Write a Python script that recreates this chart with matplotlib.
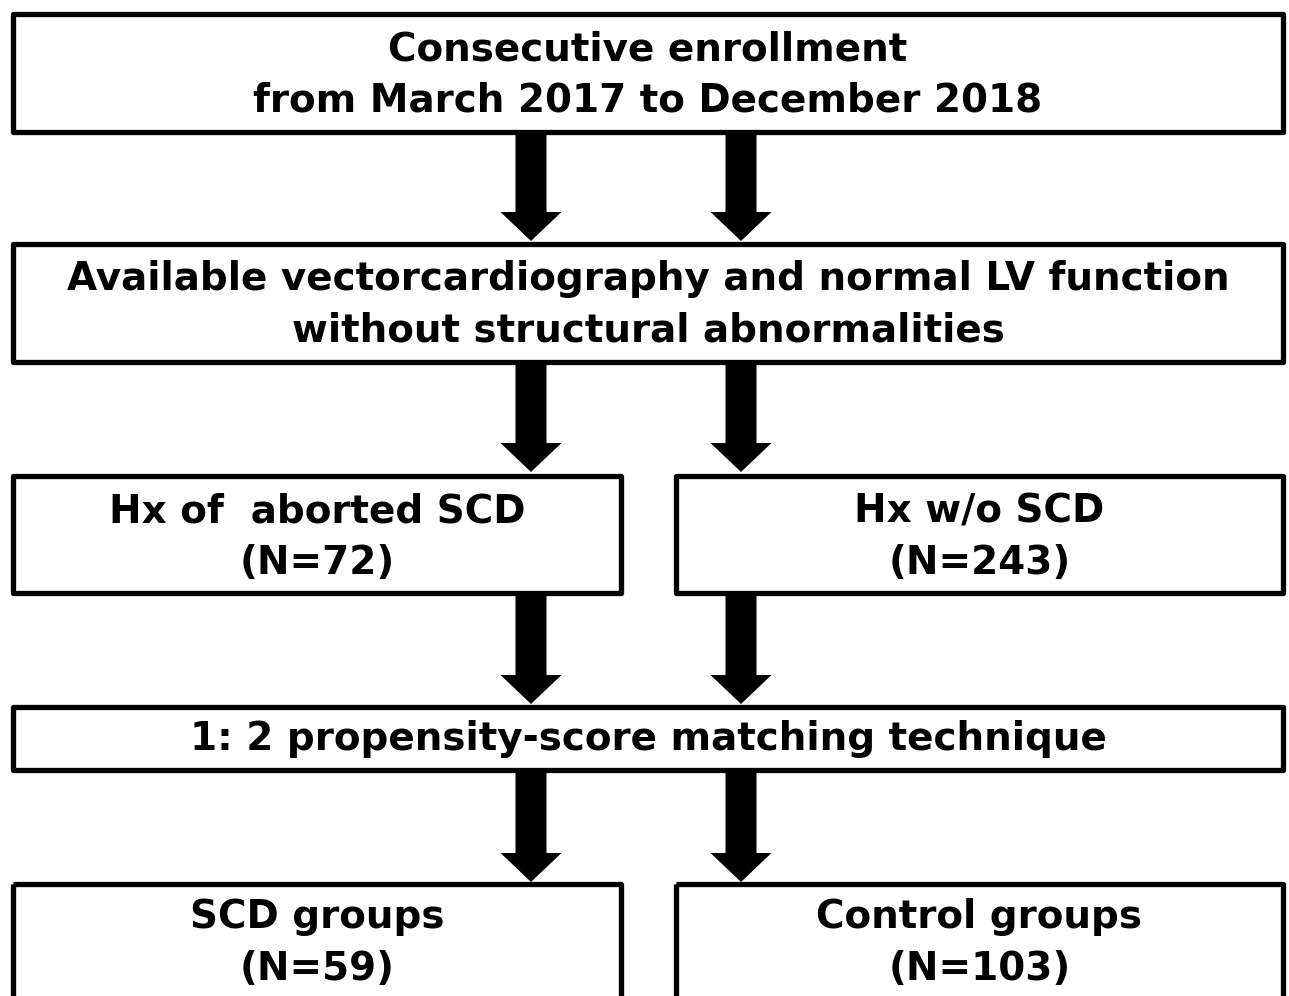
import matplotlib
matplotlib.use("Agg")
import matplotlib.pyplot as plt
from matplotlib.patches import Rectangle, FancyArrow

# box texts, top to bottom
top_text = "Consecutive enrollment\nfrom March 2017 to December 2018"
second_text = "Available vectorcardiography and normal LV function\nwithout structural abnormalities"
split_left = "Hx of  aborted SCD\n(N=72)"
split_right = "Hx w/o SCD\n(N=243)"
match_text = "1: 2 propensity-score matching technique"
final_left = "SCD groups\n(N=59)"
final_right = "Control groups\n(N=103)"

W, H = 1289, 996
fig = plt.figure(figsize=(W / 100, H / 100), dpi=100)
ax = fig.add_axes([0, 0, 1, 1])
ax.set_xlim(0, W)
ax.set_ylim(H, 0)
ax.axis("off")

lw = 3.8
font = dict(family="DejaVu Sans", weight="bold", fontsize=28,
            ha="center", va="center", linespacing=1.44)


def box(x0, y0, x1, y1, text, ty=None):
    ax.add_patch(Rectangle((x0, y0), x1 - x0, y1 - y0, fill=False,
                           ec="black", lw=lw, joinstyle="round"))
    if ty is None:
        ty = (y0 + y1) / 2
    ax.text((x0 + x1) / 2, ty, text, **font)


def arrows(y0, y1):
    for xc in (531, 741):
        ax.add_patch(FancyArrow(xc, y0, 0, y1 - y0, width=31, head_width=61,
                                head_length=29, length_includes_head=True,
                                fc="black", ec="black", lw=0))


box(13, 14, 1283, 132, top_text, 75)
arrows(132, 241)
box(13, 244, 1283, 362, second_text, 305)
arrows(362, 472)
box(13, 476, 621, 593, split_left, 537)
box(676, 476, 1283, 593, split_right, 537)
arrows(593, 704)
box(13, 707, 1283, 770, match_text, 739)
arrows(770, 882)
# bottom boxes run off the lower edge of the image
box(13, 884, 621, 1010, final_left, 943)
box(676, 884, 1283, 1010, final_right, 943)

fig.savefig("out.png", dpi=100)
